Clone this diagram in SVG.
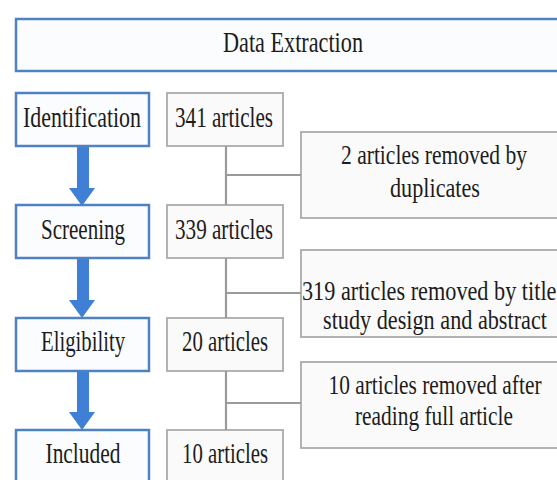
<svg xmlns="http://www.w3.org/2000/svg" width="557" height="480" viewBox="0 0 557 480">
<style>
  text { font-family: "Liberation Serif", "Times New Roman", serif; font-size: 30px; fill: #1c1c1c; }
  .c { text-anchor: middle; }
  .r { font-size: 28px; }
  .stage { fill: #fbfcfe; stroke: #4f82c2; stroke-width: 2.5; }
  .count { fill: #fafafa; stroke: #ababab; stroke-width: 1.8; }
  .conn { stroke: #9a9a9a; stroke-width: 2.2; fill: none; }
  .arrow { fill: #3f7fd6; }
</style>
<rect width="557" height="480" fill="#ffffff"/>

<g id="header">
  <rect class="stage" x="16" y="19" width="560" height="52"/>
  <text class="c" x="293" y="52" font-size="28" textLength="140" lengthAdjust="spacingAndGlyphs">Data Extraction</text>
</g>

<g id="identification">
  <rect class="stage" x="16" y="93" width="133" height="53"/>
  <text class="c" x="82" y="127" textLength="118" lengthAdjust="spacingAndGlyphs">Identification</text>
</g>
<g id="screening">
  <rect class="stage" x="16" y="205" width="133" height="53"/>
  <text class="c" x="83" y="239" textLength="84" lengthAdjust="spacingAndGlyphs">Screening</text>
</g>
<g id="eligibility">
  <rect class="stage" x="16" y="318" width="133" height="53"/>
  <text class="c" x="83" y="351" textLength="84" lengthAdjust="spacingAndGlyphs">Eligibility</text>
</g>
<g id="included">
  <rect class="stage" x="16" y="430" width="133" height="60"/>
  <text class="c" x="83" y="463" textLength="75" lengthAdjust="spacingAndGlyphs">Included</text>
</g>

<g id="n341">
  <rect class="count" x="167" y="93" width="116" height="53"/>
  <text class="c" x="224" y="127" textLength="98" lengthAdjust="spacingAndGlyphs">341 articles</text>
</g>
<g id="n339">
  <rect class="count" x="167" y="205" width="116" height="53"/>
  <text class="c" x="224" y="239" textLength="98" lengthAdjust="spacingAndGlyphs">339 articles</text>
</g>
<g id="n20">
  <rect class="count" x="167" y="318" width="116" height="53"/>
  <text class="c" x="225" y="351" textLength="86" lengthAdjust="spacingAndGlyphs">20 articles</text>
</g>
<g id="n10">
  <rect class="count" x="167" y="430" width="116" height="60"/>
  <text class="c" x="225" y="463" textLength="86" lengthAdjust="spacingAndGlyphs">10 articles</text>
</g>

<g id="removed-duplicates">
  <rect class="count" x="301" y="132" width="270" height="86"/>
  <text class="c r" x="434" y="164" textLength="186" lengthAdjust="spacingAndGlyphs">2 articles removed by</text>
  <text class="c r" x="435" y="197" textLength="90" lengthAdjust="spacingAndGlyphs">duplicates</text>
</g>
<g id="removed-title">
  <rect class="count" x="301" y="250" width="270" height="87"/>
  <text class="r" x="302" y="300" textLength="260" lengthAdjust="spacingAndGlyphs">319 articles removed by title,</text>
  <text class="c r" x="435" y="329" textLength="224" lengthAdjust="spacingAndGlyphs">study design and abstract</text>
</g>
<g id="removed-fulltext">
  <rect class="count" x="301" y="362" width="270" height="86"/>
  <text class="c r" x="435" y="394" textLength="213" lengthAdjust="spacingAndGlyphs">10 articles removed after</text>
  <text class="c r" x="434" y="425" textLength="158" lengthAdjust="spacingAndGlyphs">reading full article</text>
</g>

<g id="connectors">
  <path class="conn" d="M226,146 V205 M226,175 H301"/>
  <path class="conn" d="M226,258 V318 M226,293 H301"/>
  <path class="conn" d="M226,371 V430 M226,403 H301"/>
  <path class="arrow" d="M77,147 H89 V188 H95 L82,206 L69,188 H77 Z"/>
  <path class="arrow" d="M77,259 H89 V300 H95 L82,318 L69,300 H77 Z"/>
  <path class="arrow" d="M77,372 H89 V412 H95 L82,430 L69,412 H77 Z"/>
</g>
</svg>
